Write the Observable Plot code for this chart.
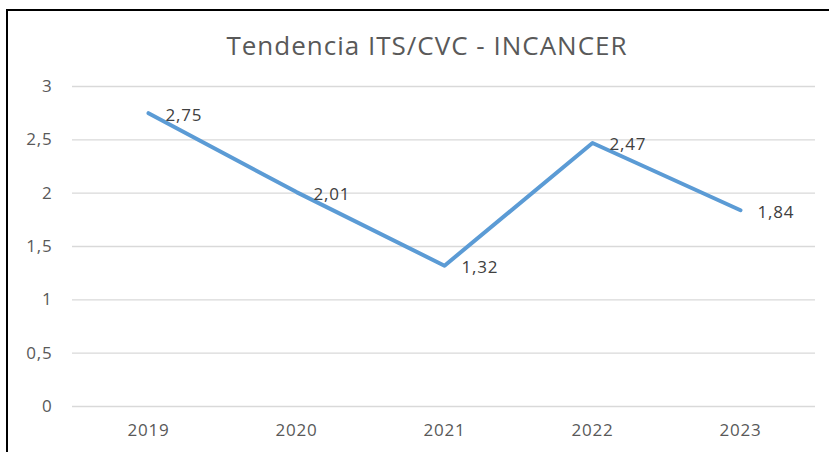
<!DOCTYPE html>
<html>
<head>
<meta charset="utf-8">
<script src="https://cdn.jsdelivr.net/npm/d3@7"></script>
<script src="https://cdn.jsdelivr.net/npm/@observablehq/plot@0.6"></script>
<style>
  html, body { margin: 0; padding: 0; background: #fff; }
  #wrap { position: relative; width: 829px; height: 452px; overflow: hidden; font-family: "Open Sans", sans-serif; }
  #border { position: absolute; left: 6px; top: 9px; width: 900px; height: 500px; border-top: 2.5px solid #000; border-left: 2.5px solid #000; }
  #title { position: absolute; left: 0; width: 854px; top: 27px; text-align: center; font-size: 26px; letter-spacing: 1px; line-height: normal; color: #595959; }
  #chart { position: absolute; left: 0; top: 0; }
</style>
</head>
<body>
<div id="wrap">
  <div id="border"></div>
  <div id="chart"></div>
  <div id="title">Tendencia ITS/CVC - INCANCER</div>
</div>
<script>
const years = ["2019", "2020", "2021", "2022", "2023"];
const values = [2.75, 2.01, 1.32, 2.47, 1.84];
const yTicks = [0, 0.5, 1, 1.5, 2, 2.5, 3];

const data = years.map((y, i) => ({year: y, value: values[i]}));
const fmt = v => String(v).replace(".", ",");

const chart = Plot.plot({
  width: 829,
  height: 452,
  marginTop: 86,
  marginBottom: 46,
  marginLeft: 72,
  marginRight: 14,
  style: {fontFamily: "'Open Sans', sans-serif", fontSize: "17px", letterSpacing: "0.8px", color: "#595959", background: "transparent"},
  x: {type: "point", domain: years, padding: 0.5, label: null},
  y: {domain: [0, 3], label: null},
  marks: [
    Plot.gridY(yTicks, {stroke: "#d9d9d9", strokeOpacity: 1, strokeWidth: 1.3}),
    Plot.axisY({ticks: yTicks, tickSize: 0, tickPadding: 20, tickFormat: fmt, fontSize: 17, fill: "#595959"}),
    Plot.axisX({tickSize: 0, tickPadding: 17, fontSize: 17, fill: "#595959"}),
    Plot.line(data, {x: "year", y: "value", stroke: "#5B9BD5", strokeWidth: 4, strokeLinecap: "round", strokeLinejoin: "round"}),
    Plot.text(data, {x: "year", y: "value", text: d => fmt(d.value), textAnchor: "start", dx: 17, dy: 2, fontSize: 17, fill: "#404040"})
  ]
});
document.getElementById("chart").appendChild(chart);
</script>
</body>
</html>
